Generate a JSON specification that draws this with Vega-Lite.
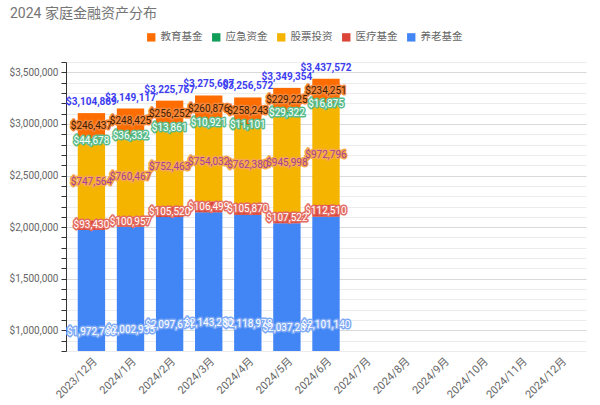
{
  "$schema": "https://vega.github.io/schema/vega-lite/v6.json",
  "width": 520,
  "height": 289,
  "autosize": {"type": "none"},
  "padding": {"left": 66, "top": 62, "right": 14, "bottom": 54},
  "background": "white",
  "config": {"font": "Roboto, Noto Sans CJK SC, sans-serif", "view": {"stroke": null}},
  "title": {"text": "2024 家庭金融资产分布", "anchor": "start", "frame": "group", "dx": -56, "dy": 11, "offset": 22, "fontSize": 14, "fontWeight": "normal", "color": "#757575"},
  "datasets": {
    "assets": [
      {"month": "2023/12月", "fund": "养老基金", "amount": 1972760},
      {"month": "2023/12月", "fund": "医疗基金", "amount": 93430},
      {"month": "2023/12月", "fund": "股票投资", "amount": 747564},
      {"month": "2023/12月", "fund": "应急资金", "amount": 44678},
      {"month": "2023/12月", "fund": "教育基金", "amount": 246437},
      {"month": "2024/1月", "fund": "养老基金", "amount": 2002935},
      {"month": "2024/1月", "fund": "医疗基金", "amount": 100957},
      {"month": "2024/1月", "fund": "股票投资", "amount": 760467},
      {"month": "2024/1月", "fund": "应急资金", "amount": 36332},
      {"month": "2024/1月", "fund": "教育基金", "amount": 248425},
      {"month": "2024/2月", "fund": "养老基金", "amount": 2097671},
      {"month": "2024/2月", "fund": "医疗基金", "amount": 105520},
      {"month": "2024/2月", "fund": "股票投资", "amount": 752463},
      {"month": "2024/2月", "fund": "应急资金", "amount": 13861},
      {"month": "2024/2月", "fund": "教育基金", "amount": 256252},
      {"month": "2024/3月", "fund": "养老基金", "amount": 2143280},
      {"month": "2024/3月", "fund": "医疗基金", "amount": 106499},
      {"month": "2024/3月", "fund": "股票投资", "amount": 754032},
      {"month": "2024/3月", "fund": "应急资金", "amount": 10921},
      {"month": "2024/3月", "fund": "教育基金", "amount": 260876},
      {"month": "2024/4月", "fund": "养老基金", "amount": 2118978},
      {"month": "2024/4月", "fund": "医疗基金", "amount": 105870},
      {"month": "2024/4月", "fund": "股票投资", "amount": 762380},
      {"month": "2024/4月", "fund": "应急资金", "amount": 11101},
      {"month": "2024/4月", "fund": "教育基金", "amount": 258243},
      {"month": "2024/5月", "fund": "养老基金", "amount": 2037287},
      {"month": "2024/5月", "fund": "医疗基金", "amount": 107522},
      {"month": "2024/5月", "fund": "股票投资", "amount": 945998},
      {"month": "2024/5月", "fund": "应急资金", "amount": 29322},
      {"month": "2024/5月", "fund": "教育基金", "amount": 229225},
      {"month": "2024/6月", "fund": "养老基金", "amount": 2101140},
      {"month": "2024/6月", "fund": "医疗基金", "amount": 112510},
      {"month": "2024/6月", "fund": "股票投资", "amount": 972796},
      {"month": "2024/6月", "fund": "应急资金", "amount": 16875},
      {"month": "2024/6月", "fund": "教育基金", "amount": 234251}
    ],
    "totals": [
      {"month": "2023/12月", "total": 3104869},
      {"month": "2024/1月", "total": 3149117},
      {"month": "2024/2月", "total": 3225767},
      {"month": "2024/3月", "total": 3275607},
      {"month": "2024/4月", "total": 3256572},
      {"month": "2024/5月", "total": 3349354},
      {"month": "2024/6月", "total": 3437572}
    ]
  },
  "encoding": {
    "x": {
      "field": "month", "type": "ordinal", "title": null,
      "scale": {"domain": ["2023/12月", "2024/1月", "2024/2月", "2024/3月", "2024/4月", "2024/5月", "2024/6月", "2024/7月", "2024/8月", "2024/9月", "2024/10月", "2024/11月", "2024/12月"], "paddingInner": 0.3, "paddingOuter": 0.3},
      "axis": {"labelAngle": -45, "domain": false, "ticks": false, "grid": false, "labelColor": "#666666", "labelFontSize": 11, "labelPadding": 4}
    }
  },
  "layer": [
    {
      "data": {"name": "assets"},
      "transform": [
        {"calculate": "indexof(['养老基金','医疗基金','股票投资','应急资金','教育基金'], datum.fund)", "as": "ord"},
        {"stack": "amount", "groupby": ["month"], "sort": [{"field": "ord", "order": "ascending"}], "as": ["y0", "y1"]},
        {"calculate": "(datum.y0 + datum.y1) / 2", "as": "ymid"}
      ],
      "layer": [
        {
          "mark": {"type": "bar", "clip": true},
          "encoding": {
            "y": {
              "field": "y0", "type": "quantitative", "title": null,
              "scale": {"domain": [800000, 3600000], "zero": false, "nice": false},
              "axis": {
                "values": [800000, 900000, 1000000, 1100000, 1200000, 1300000, 1400000, 1500000, 1600000, 1700000, 1800000, 1900000, 2000000, 2100000, 2200000, 2300000, 2400000, 2500000, 2600000, 2700000, 2800000, 2900000, 3000000, 3100000, 3200000, 3300000, 3400000, 3500000, 3600000],
                "tickCount": 40,
                "labelExpr": "datum.value % 500000 === 0 ? '$' + format(datum.value, ',') : ''",
                "labelOverlap": false,
                "domainColor": "#333333",
                "tickColor": "#333333",
                "tickSize": 5,
                "labelColor": "#666666",
                "labelFontSize": 10,
                "labelPadding": 3,
                "gridColor": {"condition": {"test": "datum.value % 500000 === 0", "value": "#d9d9d9"}, "value": "#ececec"}
              }
            },
            "y2": {"field": "y1"},
            "color": {
              "field": "fund", "type": "nominal",
              "scale": {"domain": ["教育基金", "应急资金", "股票投资", "医疗基金", "养老基金"], "range": ["#ff6d01", "#0f9d58", "#f4b400", "#db4437", "#4285f4"]},
              "legend": {"orient": "none", "legendX": 80, "legendY": -30, "direction": "horizontal", "title": null, "symbolType": "square", "symbolSize": 70, "symbolStrokeWidth": 0, "labelFontSize": 10.5, "labelColor": "#666666", "columnPadding": 8, "labelOffset": 4}
            }
          }
        },
        {
          "mark": {"type": "text", "fontSize": 10, "strokeWidth": 3, "strokeJoin": "round", "fillOpacity": 0, "clip": true},
          "encoding": {
            "y": {"field": "ymid", "type": "quantitative"},
            "text": {"field": "amount", "type": "quantitative", "format": "$,.0f"},
            "stroke": {
              "field": "fund", "type": "nominal", "legend": null,
              "scale": {"domain": ["教育基金", "应急资金", "股票投资", "医疗基金", "养老基金"], "range": ["#f5873a", "#5cbd8c", "#f7aa48", "#e46b60", "#7eaaf6"]}
            }
          }
        },
        {
          "mark": {"type": "text", "fontSize": 10, "clip": true},
          "encoding": {
            "y": {"field": "ymid", "type": "quantitative"},
            "text": {"field": "amount", "type": "quantitative", "format": "$,.0f"},
            "fill": {
              "field": "fund", "type": "nominal", "legend": null,
              "scale": {"domain": ["教育基金", "应急资金", "股票投资", "医疗基金", "养老基金"], "range": ["#3d1c00", "#ffffff", "#a4409a", "#ffffff", "#ffffff"]}
            }
          }
        }
      ]
    },
    {
      "data": {"name": "totals"},
      "mark": {"type": "text", "fontSize": 10, "fontWeight": "bold", "color": "#3c3cf0", "baseline": "bottom", "dy": -6},
      "encoding": {
        "y": {"field": "total", "type": "quantitative"},
        "text": {"field": "total", "type": "quantitative", "format": "$,.0f"}
      }
    }
  ]
}
